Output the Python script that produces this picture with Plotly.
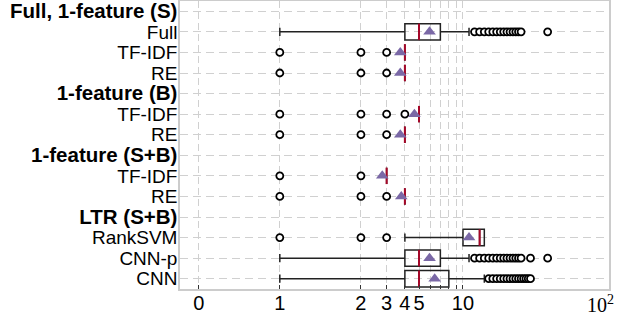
import math
import plotly.graph_objects as go

# ---- data ----
row_labels = ["<b>Full, 1-feature (S)</b>", "Full", "TF-IDF", "RE",
              "<b>1-feature (B)</b>", "TF-IDF", "RE",
              "<b>1-feature (S+B)</b>", "TF-IDF", "RE",
              "<b>LTR (S+B)</b>", "RankSVM", "CNN-p", "CNN"]
method_rows = [1, 2, 3, 5, 6, 8, 9, 11, 12, 13]
q1_vals = [4, 4, 4, 5, 4, 3, 4, 10, 4, 4]
median_vals = [5, 4, 4, 5, 4, 3, 4, 13, 5, 5]
q3_vals = [7, 4, 4, 5, 4, 3, 4, 14, 7, 8]
lower_vals = [1, 4, 4, 5, 4, 3, 4, 4, 1, 1]
upper_vals = [11, 4, 4, 5, 4, 3, 4, 14, 11, 14]
mean_vals = [5.9, 3.72, 3.72, 4.65, 3.72, 2.8, 3.78, 11.0, 5.9, 6.4]
outlier_vals = [
    [12, 13, 14, 15, 16, 17, 18, 19, 20, 21, 22, 23, 24, 25, 38],
    [1, 2, 3],
    [1, 2, 3],
    [1, 2, 3, 4],
    [1, 2, 3],
    [1, 2],
    [1, 2, 3],
    [1, 2, 3],
    [12, 13, 14, 15, 16, 17, 18, 19, 20, 21, 22, 23, 24, 25, 29, 38],
    [15, 16, 17, 18, 19, 20, 21, 22, 23, 24, 25, 26, 27, 28, 29],
]
tick_values = [0, 1, 2, 3, 4, 5, 6, 7, 8, 9, 10, 100]
tick_labels = ["0", "1", "2", "3", "4", "5", "", "", "", "", "10", ""]

# symlog scale (linthresh=2, linscale=1, base 10), as plotly has no symlog axis
LT = 2.0
LA = 1.0 / (1.0 - 1.0 / 10.0)


def symlog(v):
    if abs(v) <= LT:
        return v * LA
    return math.copysign(LT * (LA + math.log10(abs(v) / LT)), v)


def T(vals):
    return [symlog(v) for v in vals]


def label_html(s):
    if s.startswith("<b>"):
        return '<span style="font-size:20.5px">' + s + "</span>"
    return s


BOX_W = 0.8
RED = "#A60628"
PURPLE = "#7A68A6"
GRID = "#d0d0d0"

fig = go.Figure()

fig.add_trace(go.Box(
    orientation="h",
    y=method_rows,
    q1=T(q1_vals), median=T(median_vals), q3=T(q3_vals),
    lowerfence=T(lower_vals), upperfence=T(upper_vals),
    width=BOX_W, whiskerwidth=0.5,
    line=dict(color="#222222", width=1.5),
    fillcolor="rgba(255,255,255,0)",
    boxpoints=False, hoverinfo="skip", showlegend=False,
))

# median lines
mx, my = [], []
for r, m in zip(method_rows, median_vals):
    mx += [symlog(m), symlog(m), None]
    my += [r - BOX_W / 2, r + BOX_W / 2, None]
fig.add_trace(go.Scatter(x=mx, y=my, mode="lines",
                         line=dict(color=RED, width=2), showlegend=False,
                         hoverinfo="skip"))

# outliers
ox, oy = [], []
for r, outs in zip(method_rows, outlier_vals):
    ox += T(outs)
    oy += [r] * len(outs)
fig.add_trace(go.Scatter(x=ox, y=oy, mode="markers",
                         marker=dict(symbol="circle", size=7, color="white",
                                     line=dict(color="black", width=1.8)),
                         showlegend=False, hoverinfo="skip"))

# means
fig.add_trace(go.Scatter(x=T(mean_vals), y=method_rows, mode="markers",
                         marker=dict(symbol="triangle-up", size=11, color=PURPLE,
                                     line=dict(width=0)),
                         showlegend=False, hoverinfo="skip"))

fig.add_annotation(
    x=symlog(100), y=0, xref="x", yref="paper",
    text="10<sup>2</sup>", showarrow=False,
    xanchor="center", yanchor="top", xshift=-9, yshift=-1,
    font=dict(family="Liberation Serif", size=20, color="black"),
)

fig.update_xaxes(
    range=[-0.256, symlog(100)],
    tickmode="array", tickvals=T(tick_values), ticktext=tick_labels,
    showgrid=True, gridcolor=GRID, gridwidth=1.2, griddash="7px,4px",
    zeroline=False, automargin=False, ticklabeloverflow="allow",
    showline=True, linecolor="#cccccc", linewidth=1.5, mirror=True,
    ticks="inside", ticklen=4, tickcolor="#333333", tickwidth=1,
    ticklabelstandoff=-5,
    tickfont=dict(family="Liberation Sans", size=20, color="black"),
)
fig.update_yaxes(
    range=[13.5, -0.5],
    tickmode="array", tickvals=list(range(len(row_labels))),
    ticktext=[label_html(s) for s in row_labels],
    showgrid=True, gridcolor=GRID, gridwidth=1.2, griddash="8px,5px",
    zeroline=False, automargin=False, ticklabeloverflow="allow",
    showline=True, linecolor="#cccccc", linewidth=1.5, mirror=True,
    ticks="", ticklabelstandoff=-3,
    tickfont=dict(family="Liberation Sans", size=19, color="black"),
)

fig.update_layout(
    width=624, height=313,
    margin=dict(l=180, r=15, t=1, b=24),
    paper_bgcolor="white", plot_bgcolor="white",
    showlegend=False,
)

fig.write_html("out.html",
               config={"displayModeBar": False},
               post_script="document.body.style.margin='0';")
